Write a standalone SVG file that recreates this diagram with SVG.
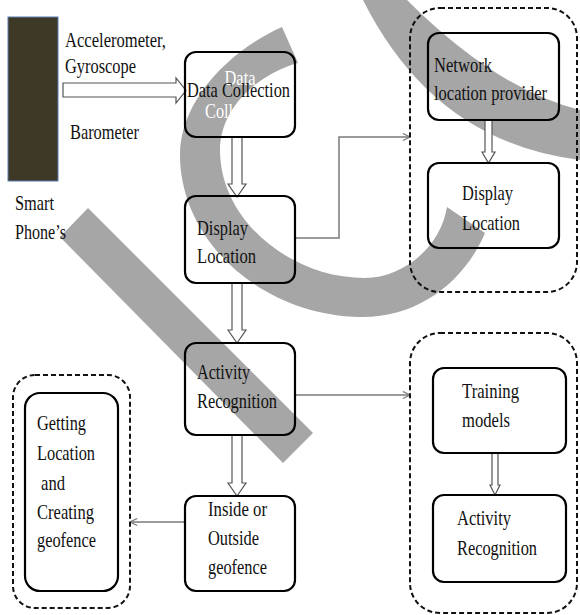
<svg xmlns="http://www.w3.org/2000/svg" width="580" height="615" viewBox="0 0 580 615">
<style>
.t{font-family:"Liberation Serif","Times New Roman",serif;font-size:22px;fill:#111}
.g{font-family:"Liberation Serif","Times New Roman",serif;font-size:21px;fill:#fff}
.box{fill:none;stroke:#000;stroke-width:2.2}
.dash{fill:none;stroke:#111;stroke-width:2;stroke-dasharray:5 3}
.blk{fill:#fff;stroke:#555;stroke-width:1.2;stroke-linejoin:miter}
.con{fill:none;stroke:#7a7a7a;stroke-width:1.5}
.wm{fill:#a6a6a6}
</style>
<defs>
<marker id="ah" viewBox="0 0 10 10" refX="9" refY="5" markerWidth="9" markerHeight="9" markerUnits="userSpaceOnUse" orient="auto">
<path d="M1,1 L9,5 L1,9" fill="none" stroke="#7a7a7a" stroke-width="1.3"/>
</marker>
</defs>
<rect width="580" height="615" fill="#fff"/>
<!-- watermark shapes -->
<path class="wm" d="M282,27 C230,50 180,100 180,155 C180,240 260,315 360,317 C420,318 465,280 485,233 L447,207 C440,250 400,278 365,278 C290,278 220,220 220,150 C220,110 255,75 298,63 Z"/>
<path class="wm" d="M363,0 Q434,142 580,160 L580,110 Q496,89 407,0 Z"/>
<polygon class="wm" points="88,208 313,433 283,463 60,237"/>
<text class="g" x="240" y="85" text-anchor="middle" textLength="31" lengthAdjust="spacingAndGlyphs">Data</text>
<text class="g" x="205" y="118" textLength="68" lengthAdjust="spacingAndGlyphs">Collection</text>

<g id="smartphone">
<rect x="8" y="17" width="50" height="164" fill="#3e3926" stroke="#5a7fb0" stroke-width="1"/>
<text class="t" x="15" y="210" textLength="39" lengthAdjust="spacingAndGlyphs">Smart</text>
<text class="t" x="15" y="239" textLength="51" lengthAdjust="spacingAndGlyphs">Phone’s</text>
</g>
<g id="sensors">
<text class="t" x="65" y="47" textLength="101" lengthAdjust="spacingAndGlyphs">Accelerometer,</text>
<text class="t" x="65" y="73" textLength="71" lengthAdjust="spacingAndGlyphs">Gyroscope</text>
<text class="t" x="70" y="139" textLength="69" lengthAdjust="spacingAndGlyphs">Barometer</text>
</g>

<g id="connectors">
<polygon class="blk" points="63,83 176,83 176,78 186,90.5 176,103 176,97 63,97"/>
<polygon class="blk" points="232,137 242,137 242,184 246,184 237,197 228,184 232,184"/>
<polygon class="blk" points="232,283 242,283 242,330 246,330 237,343 228,330 232,330"/>
<polygon class="blk" points="232,435 242,435 242,483 246,483 237,496 228,483 232,483"/>
<polygon class="blk" points="485,120 492,120 492,152 495,152 488.5,163 482,152 485,152"/>
<polygon class="blk" points="492,453 498,453 498,485 500,485 495,495 490,485 492,485"/>
<polyline class="con" points="295,238 339,238 339,137 410,137" marker-end="url(#ah)"/>
<line class="con" x1="295" y1="395" x2="410" y2="395" marker-end="url(#ah)"/>
<line class="con" x1="185" y1="522" x2="130" y2="522" marker-end="url(#ah)"/>
</g>

<g id="data-collection">
<rect class="box" x="185" y="52" width="110" height="85" rx="11"/>
<text class="t" x="187" y="97" textLength="103" lengthAdjust="spacingAndGlyphs">Data Collection</text>
</g>
<g id="display-location">
<rect class="box" x="185" y="196" width="110" height="87" rx="11"/>
<text class="t" x="197" y="235" textLength="51" lengthAdjust="spacingAndGlyphs">Display</text>
<text class="t" x="197" y="263" textLength="59" lengthAdjust="spacingAndGlyphs">Location</text>
</g>
<g id="activity-recognition">
<rect class="box" x="185" y="343" width="110" height="92" rx="11"/>
<text class="t" x="197" y="379" textLength="53" lengthAdjust="spacingAndGlyphs">Activity</text>
<text class="t" x="197" y="408" textLength="80" lengthAdjust="spacingAndGlyphs">Recognition</text>
</g>
<g id="inside-outside">
<rect class="box" x="185" y="496" width="110" height="95" rx="11"/>
<text class="t" x="208" y="516" textLength="59" lengthAdjust="spacingAndGlyphs">Inside or</text>
<text class="t" x="208" y="545" textLength="51" lengthAdjust="spacingAndGlyphs">Outside</text>
<text class="t" x="208" y="574" textLength="59" lengthAdjust="spacingAndGlyphs">geofence</text>
</g>
<g id="geofence-group">
<rect class="dash" x="13" y="375" width="117" height="233" rx="22"/>
<rect class="box" x="25" y="393" width="93" height="198" rx="15"/>
<text class="t" x="37" y="430" textLength="49" lengthAdjust="spacingAndGlyphs">Getting</text>
<text class="t" x="37" y="460" textLength="58" lengthAdjust="spacingAndGlyphs">Location</text>
<text class="t" x="41" y="490" textLength="24" lengthAdjust="spacingAndGlyphs">and</text>
<text class="t" x="37" y="519" textLength="57" lengthAdjust="spacingAndGlyphs">Creating</text>
<text class="t" x="37" y="547" textLength="59" lengthAdjust="spacingAndGlyphs">geofence</text>
</g>
<g id="network-group">
<rect class="dash" x="410" y="8" width="167" height="284" rx="30"/>
</g>
<g id="network-provider">
<rect class="box" x="428" y="33" width="131" height="87" rx="11"/>
<text class="t" x="434" y="72" textLength="58" lengthAdjust="spacingAndGlyphs">Network</text>
<text class="t" x="434" y="100" textLength="113" lengthAdjust="spacingAndGlyphs">location provider</text>
</g>
<g id="display-location-2">
<rect class="box" x="428" y="163" width="131" height="85" rx="11"/>
<text class="t" x="462" y="200" textLength="51" lengthAdjust="spacingAndGlyphs">Display</text>
<text class="t" x="462" y="230" textLength="58" lengthAdjust="spacingAndGlyphs">Location</text>
</g>
<g id="activity-group">
<rect class="dash" x="410" y="333" width="167" height="280" rx="30"/>
</g>
<g id="training-models">
<rect class="box" x="433" y="368" width="133" height="85" rx="11"/>
<text class="t" x="462" y="398" textLength="57" lengthAdjust="spacingAndGlyphs">Training</text>
<text class="t" x="462" y="427" textLength="48" lengthAdjust="spacingAndGlyphs">models</text>
</g>
<g id="activity-recognition-2">
<rect class="box" x="433" y="495" width="133" height="87" rx="11"/>
<text class="t" x="457" y="525" textLength="54" lengthAdjust="spacingAndGlyphs">Activity</text>
<text class="t" x="457" y="555" textLength="80" lengthAdjust="spacingAndGlyphs">Recognition</text>
</g>
</svg>
